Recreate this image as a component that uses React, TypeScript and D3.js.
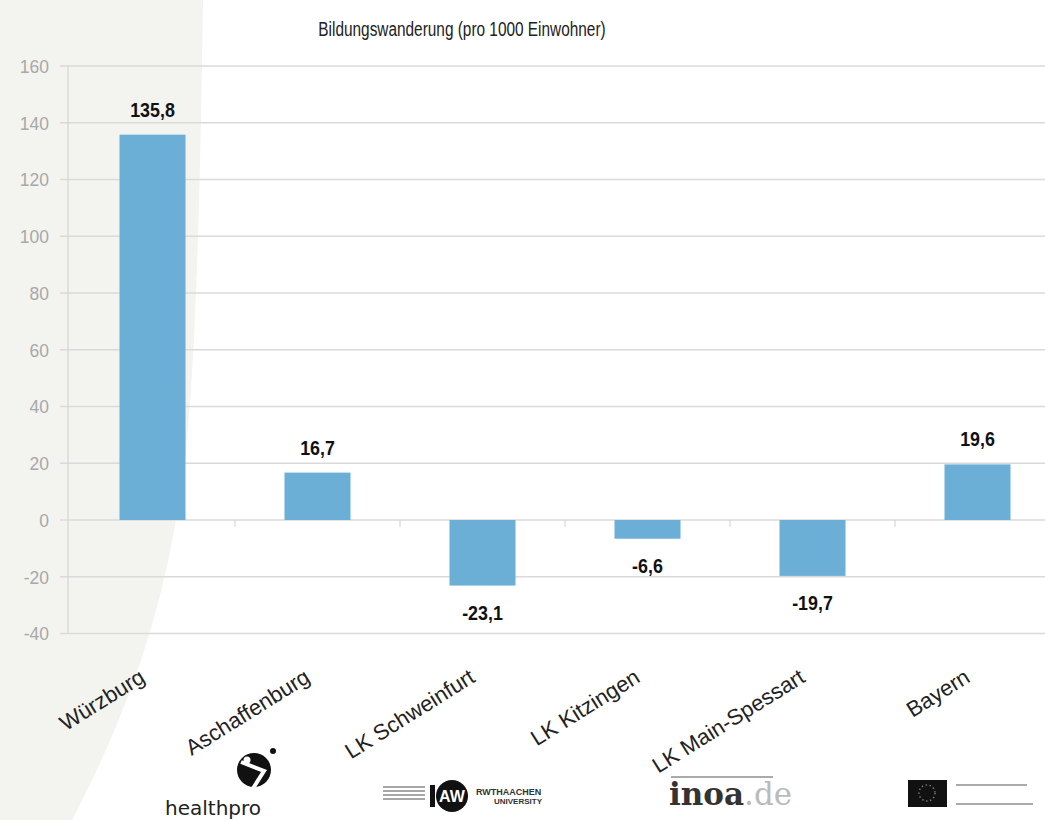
import React from "react";
import * as d3 from "d3";

const categories = ["Würzburg", "Aschaffenburg", "LK Schweinfurt", "LK Kitzingen", "LK Main-Spessart", "Bayern"];
const values = [135.8, 16.7, -23.1, -6.6, -19.7, 19.6];
const valueLabels = ["135,8", "16,7", "-23,1", "-6,6", "-19,7", "19,6"];
const yTicks = [160, 140, 120, 100, 80, 60, 40, 20, 0, -20, -40];
const title = "Bildungswanderung (pro 1000 Einwohner)";

const W = 1045;
const H = 820;
const FONT = "'Liberation Sans', Arial, sans-serif";

export default function App() {
  const x = d3.scaleBand<string>().domain(categories).range([70, 1060]).paddingInner(0).paddingOuter(0);
  const y = d3.scaleLinear().domain([-40, 160]).range([633.5, 66]);
  const barW = x.bandwidth() * 0.4;

  const bgPath = "M0,0 L203,0 C200,200 196,350 186,450 C172,570 145,680 72,820 L0,820 Z";

  return (
    <svg width={W} height={H} style={{ position: "absolute", left: 0, top: 0, background: "#fff" }}>
      <path d={bgPath} fill="#f3f3f0" />
      <text x={462} y={36} textAnchor="middle" fontFamily={FONT} fontSize={20} fill="#222"
        transform="translate(462,0) scale(0.77,1) translate(-462,0)">{title}</text>
      {/* grid */}
      {yTicks.map((t) => (
        <g key={t}>
          <line x1={60} x2={W} y1={y(t)} y2={y(t)} stroke="#dadada" strokeWidth={1.3} />
          <text x={49} y={y(t) + 7} textAnchor="end" fontFamily={FONT} fontSize={19} fill="#a8a8a8"
            transform={`translate(49,0) scale(0.92,1) translate(-49,0)`}>{t}</text>
        </g>
      ))}
      <line x1={68} x2={68} y1={y(160)} y2={y(-40)} stroke="#d4d4d4" strokeWidth={1.2} />
      {/* x ticks */}
      {categories.slice(1).map((c) => (
        <line key={c} x1={x(c)!} x2={x(c)!} y1={y(0)} y2={y(0) + 7} stroke="#cfcfcf" />
      ))}
      {/* bars */}
      {categories.map((c, i) => {
        const cx = x(c)! + x.bandwidth() / 2;
        const v = values[i];
        const top = Math.min(y(v), y(0));
        const h = Math.abs(y(v) - y(0));
        const ly = v >= 0 ? y(v) - 18 : y(v) + 34;
        return (
          <g key={c}>
            <rect x={cx - barW / 2} y={top} width={barW} height={h} fill="#6baed6" />
            <text x={cx} y={ly} textAnchor="middle" fontFamily={FONT} fontWeight="bold" fontSize={21} fill="#111"
              transform={`translate(${cx},0) scale(0.85,1) translate(${-cx},0)`}>{valueLabels[i]}</text>
            <text x={0} y={0} textAnchor="end" fontFamily={FONT} fontSize={22} fill="#222"
              transform={`translate(${cx - 6},${681}) rotate(-32)`}>{c}</text>
          </g>
        );
      })}
      {/* logos */}
      <g>
        <circle cx={254} cy={770} r={17} fill="#111" />
        <path d="M241,762 L264,771 L252,790" stroke="#fff" strokeWidth={4} fill="none" />
        <circle cx={247} cy={760} r={3.5} fill="#fff" />
        <circle cx={273} cy={751} r={3} fill="#111" />
        <text x={165} y={815} fontFamily="'DejaVu Sans', sans-serif" fontSize={20} fill="#222">healthpro</text>
      </g>
      <g>
        {[0, 1, 2, 3].map((k) => (
          <line key={k} x1={383} x2={425} y1={787 + k * 4} y2={787 + k * 4} stroke="#888" strokeWidth={1.5} />
        ))}
        <rect x={430} y={785} width={5} height={22} fill="#111" />
        <circle cx={452} cy={796} r={16} fill="#111" />
        <text x={452} y={802} textAnchor="middle" fontFamily={FONT} fontWeight="bold" fontSize={16} fill="#fff">AW</text>
        <text x={476} y={795} fontFamily={FONT} fontWeight="bold" fontSize={9} fill="#333">RWTHAACHEN</text>
        <text x={494} y={804} fontFamily={FONT} fontWeight="bold" fontSize={8} fill="#333">UNIVERSITY</text>
      </g>
      <g>
        <line x1={671} x2={773} y1={777} y2={777} stroke="#aaa" strokeWidth={2} />
        <text x={669} y={805} fontFamily="'DejaVu Serif', serif" fontWeight="bold" fontSize={31} fill="#333">inoa<tspan fill="#bbb" fontWeight="normal">.de</tspan></text>
      </g>
      <g>
        <rect x={908} y={780} width={39} height={27} fill="#111" />
        <circle cx={927} cy={793} r={8} fill="none" stroke="#777" strokeDasharray="1.5 2.5" strokeWidth={1.5} />
        <line x1={956} x2={1027} y1={785} y2={785} stroke="#aaa" strokeWidth={2} />
        <line x1={956} x2={1033} y1={804} y2={804} stroke="#aaa" strokeWidth={2} />
      </g>
    </svg>
  );
}
